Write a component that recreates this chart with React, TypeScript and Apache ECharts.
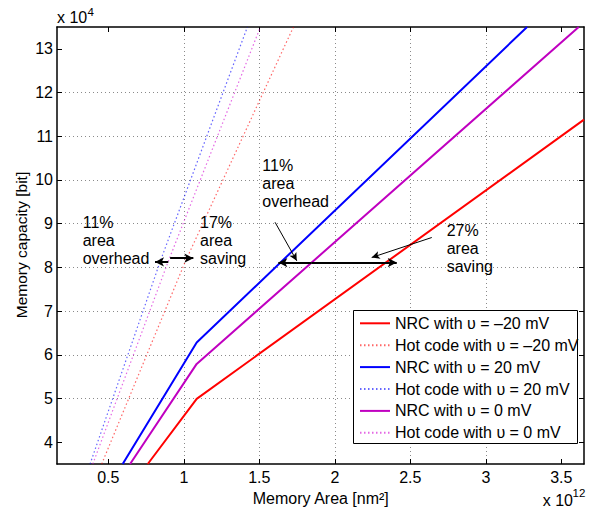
import React, { useEffect, useRef } from "react";
import * as echarts from "echarts";

// Axis ranges (x in units of 10^12 nm^2, y in units of 10^4 bit)
const xRange = [0.16, 3.65];
const yRange = [3.5, 13.5];
const xTicks = [0.5, 1, 1.5, 2, 2.5, 3, 3.5];
const yTicks = [4, 5, 6, 7, 8, 9, 10, 11, 12, 13];

const seriesNames = [
  "NRC with \u03c5 = \u201320 mV",
  "Hot code with \u03c5 = \u201320 mV",
  "NRC with \u03c5 = 20 mV",
  "Hot code with \u03c5 = 20 mV",
  "NRC with \u03c5 = 0 mV",
  "Hot code with \u03c5 = 0 mV",
];

// [area, capacity]
const nrcNeg20 = [[0.761, 3.5], [1.085, 4.99], [3.65, 11.38]];
const hotNeg20 = [[0.456, 3.5], [1.008, 8.12], [1.659, 13], [1.726, 13.5]];
const nrcPos20 = [[0.595, 3.5], [1.085, 6.28], [3.273, 13.5]];
const hotPos20 = [[0.379, 3.5], [0.842, 8.12], [1.367, 13], [1.421, 13.5]];
const nrcZero = [[0.644, 3.5], [1.085, 5.79], [3.615, 13.5]];
const hotZero = [[0.397, 3.5], [0.895, 8.12], [1.45, 13], [1.507, 13.5]];

// annotation arrows [from, to]
const thickArrows = [
  [[0.897, 8.125], [0.809, 8.125]],
  [[0.909, 8.21], [1.063, 8.21]],
  [[1.846, 8.11], [1.626, 8.11]],
  [[1.846, 8.11], [2.41, 8.11]],
];
const thinArrows = [
  [[1.604, 9.032], [1.748, 8.149]],
  [[2.642, 8.683], [2.244, 8.226]],
];

const annotationTexts = [
  "11%\narea\noverhead",
  "17%\narea\nsaving",
  "11%\narea\noverhead",
  "27%\narea\nsaving",
];

const FONT = "'Liberation Sans', Arial, Helvetica, sans-serif";
const FS = 16;

export default function App() {
  const ref = useRef<HTMLDivElement>(null);

  useEffect(() => {
    if (!ref.current) return;
    const chart = echarts.init(ref.current, null, { renderer: "svg" });

    const axisLine = { show: true, onZero: false, lineStyle: { color: "#000", width: 1.5 } };
    const splitLine = {
      show: true,
      showMinLine: false,
      showMaxLine: false,
      lineStyle: { color: "#8a8a8a", width: 1, type: [1, 3] },
    };
    const labelStyle = { fontSize: FS, fontFamily: FONT, color: "#000" };

    const mkXAxis = (pos: string, main: boolean) => ({
      type: "value",
      position: pos,
      min: xRange[0],
      max: xRange[1],
      axisLine,
      axisTick: { show: true, inside: true, length: 5, customValues: xTicks, lineStyle: { color: "#000", width: 1 } },
      axisLabel: main ? { show: true, customValues: xTicks, margin: 5, ...labelStyle } : { show: false },
      splitLine: main ? splitLine : { show: false },
    });
    const mkYAxis = (pos: string, main: boolean) => ({
      type: "value",
      position: pos,
      min: yRange[0],
      max: yRange[1],
      axisLine,
      axisTick: { show: true, inside: true, length: 5, customValues: yTicks, lineStyle: { color: "#000", width: 1 } },
      axisLabel: main ? { show: true, customValues: yTicks, margin: 4, ...labelStyle } : { show: false },
      splitLine: main ? splitLine : { show: false },
    });

    const solid = (name: string, data: number[][], color: string) => ({
      name,
      type: "line",
      data,
      symbol: "none",
      showSymbol: false,
      clip: true,
      z: 2,
      lineStyle: { color, width: 2, type: "solid" },
      itemStyle: { color },
    });
    const dotted = (name: string, data: number[][], color: string) => ({
      name,
      type: "line",
      data,
      symbol: "none",
      showSymbol: false,
      clip: true,
      z: 2,
      lineStyle: { color, width: 1.2, type: [1.5, 2.5] },
      itemStyle: { color },
    });

    const markData = [
      ...thickArrows.map(([a, b]) => [
        { coord: a, symbol: "none", lineStyle: { color: "#000", width: 2, type: "solid" } },
        { coord: b, symbol: "arrow", symbolSize: [7, 9] },
      ]),
      ...thinArrows.map(([a, b]) => [
        { coord: a, symbol: "none", lineStyle: { color: "#000", width: 1, type: "solid" } },
        { coord: b, symbol: "arrow", symbolSize: [6, 8] },
      ]),
    ];

    const annSeries = {
      name: "annotations",
      type: "line",
      data: [],
      symbol: "none",
      z: 3,
      markLine: {
        silent: true,
        animation: false,
        symbol: ["none", "arrow"],
        label: { show: false },
        lineStyle: { color: "#000", width: 2, type: "solid" },
        itemStyle: { color: "#000" },
        emphasis: { disabled: true },
        data: markData,
      },
    };

    const textPos = [
      [82.7, 240.3],
      [200, 240.3],
      [262.3, 183.7],
      [446.7, 248.7],
    ];

    const txt = (text: string, x: number, y: number, extra: any = {}) => ({
      type: "text",
      x,
      y,
      z: 10,
      silent: true,
      style: {
        text,
        fontSize: FS,
        fontFamily: FONT,
        fill: "#000",
        align: "left",
        verticalAlign: "middle",
        ...extra,
      },
    });

    const graphic = [
      {
        type: "rect",
        z: 3,
        silent: true,
        shape: { x: 353.5, y: 310.5, width: 224, height: 133 },
        style: { fill: "#fff", stroke: "#000", lineWidth: 1 },
      },
      ...annotationTexts.map((t, i) => txt(t, textPos[i][0], textPos[i][1], { lineHeight: 18.25 })),
      txt("x 10", 57, 17.8),
      txt("4", 87.5, 12, { fontSize: 11.5 }),
      txt("x 10", 542.7, 500.6),
      txt("12", 572.5, 493, { fontSize: 11.5 }),
      txt("Memory Area [nm\u00b2]", 320.8, 498, { align: "center" }),
      {
        type: "text",
        x: 21,
        y: 245,
        rotation: Math.PI / 2,
        z: 10,
        silent: true,
        style: {
          text: "Memory capacity [bit]",
          fontSize: 15.5,
          fontFamily: FONT,
          fill: "#000",
          align: "center",
          verticalAlign: "middle",
        },
      },
    ];

    chart.setOption({
      animation: false,
      backgroundColor: "#fff",
      textStyle: { fontFamily: FONT },
      grid: { left: 57, right: 11, top: 27, bottom: 46, containLabel: false, outerBoundsMode: "none" },
      xAxis: [mkXAxis("bottom", true), mkXAxis("top", false)],
      yAxis: [mkYAxis("left", true), mkYAxis("right", false)],
      legend: {
        show: true,
        data: seriesNames,
        orient: "vertical",
        left: 359,
        top: 315.3,
        padding: 0,
        itemWidth: 30,
        itemHeight: 16,
        itemGap: 5.9,
        selectedMode: false,
        z: 5,
        itemStyle: { opacity: 0 },
        textStyle: { fontSize: FS, fontFamily: FONT, color: "#000", lineHeight: 16 },
      },
      series: [
        solid(seriesNames[0], nrcNeg20, "#ff0000"),
        dotted(seriesNames[1], hotNeg20, "rgba(255,0,0,0.6)"),
        solid(seriesNames[2], nrcPos20, "#0000ff"),
        dotted(seriesNames[3], hotPos20, "rgba(0,0,255,0.6)"),
        solid(seriesNames[4], nrcZero, "#c000c0"),
        dotted(seriesNames[5], hotZero, "rgba(210,0,210,0.6)"),
        annSeries,
      ],
      graphic,
    });

    return () => chart.dispose();
  }, []);

  return (
    <div
      ref={ref}
      style={{ position: "absolute", left: 0, top: 0, width: 595, height: 510 }}
    />
  );
}
